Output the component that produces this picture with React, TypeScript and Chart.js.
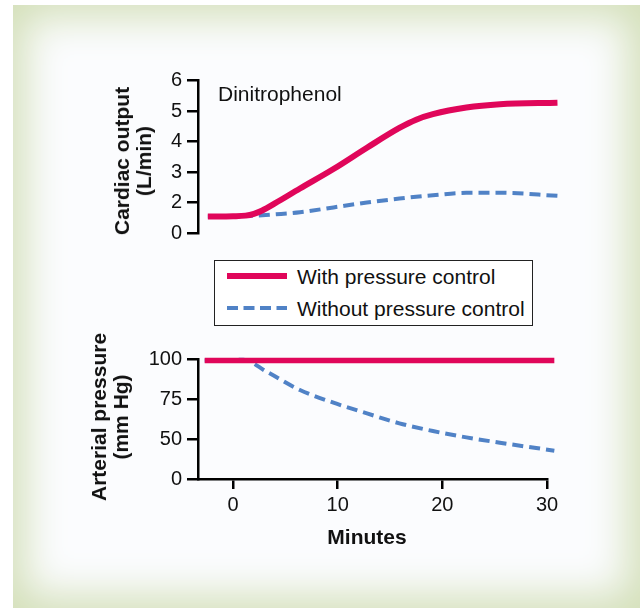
import React, { useEffect, useRef } from 'react';
import { Chart, registerables } from 'chart.js';

Chart.register(...registerables);

// ---- data ----
const cardiacMinutes = [-2.4, 0.0, 1.2, 2.0, 2.8, 4.0, 6.4, 9.6, 12.8, 15.9, 17.5, 19.1, 22.3, 25.5, 31.0];
const cardiacWithControl = [1.54, 1.55, 1.57, 1.63, 1.74, 1.97, 2.46, 3.1, 3.8, 4.45, 4.72, 4.9, 5.12, 5.23, 5.28];
const cardiacWithoutControl = [1.54, 1.55, 1.56, 1.57, 1.58, 1.61, 1.68, 1.84, 2.0, 2.13, 2.19, 2.24, 2.32, 2.32, 2.22];

const pressureMinutes = [-2.7, 1.0, 3.2, 6.4, 9.6, 12.8, 15.9, 19.1, 22.3, 25.5, 30.7];
const pressureWithControl = [99, 99, 99, 99, 99, 99, 99, 99, 99, 99, 99];
const pressureWithoutControl = [99, 99.5, 92.1, 80.6, 72.7, 66.0, 59.8, 55.0, 51.0, 47.7, 42.7];

const minuteTicks = [0, 10, 20, 30];
const cardiacTickValues = [1, 2, 3, 4, 5, 6];
const cardiacTickLabels = ['0', '2', '3', '4', '5', '6'];
const pressureTickValues = [25, 50, 75, 100];
const pressureTickLabels = ['0', '50', '75', '100'];

const seriesLabels = ['With pressure control', 'Without pressure control'];
const panelNote = 'Dinitrophenol';
const cardiacTitle = ['Cardiac output', '(L/min)'];
const pressureTitle = ['Arterial pressure', '(mm Hg)'];
const xTitle = 'Minutes';

// ---- style ----
const RED = '#E0065A';
const BLUE = '#5082C6';
const INK = '#111111';
const FONT = '"Liberation Sans", Arial, Helvetica, sans-serif';

function yAxis(tickValues: number[], tickLabels: string[], min: number, max: number) {
  return {
    type: 'linear' as const,
    min,
    max,
    afterBuildTicks: (s: any) => {
      s.ticks = tickValues.map((value) => ({ value }));
    },
    afterFit: (s: any) => {
      s.width = 138;
    },
    ticks: {
      callback: (_v: any, i: number) => tickLabels[i],
      padding: 5,
      color: INK,
      font: { family: FONT, size: 20 },
    },
    grid: {
      display: true,
      drawOnChartArea: false,
      drawTicks: true,
      tickLength: 11,
      color: '#000',
      lineWidth: 2.5,
    },
    border: { display: true, color: '#000', width: 2.5 },
  };
}

function lineSet(label: string, xs: number[], ys: number[], color: string, width: number, dash: number[]) {
  return {
    label,
    data: xs.map((x, i) => ({ x, y: ys[i] })),
    borderColor: color,
    borderWidth: width,
    borderDash: dash,
    pointRadius: 0,
    cubicInterpolationMode: 'monotone' as const,
    clip: false as any,
    fill: false,
  };
}

function RotatedTitle({ lines, cx, cy }: { lines: string[]; cx: number; cy: number }) {
  return (
    <div style={{ position: 'absolute', left: cx, top: cy, width: 0, height: 0 }}>
      <div
        style={{
          position: 'absolute',
          left: 0,
          top: 0,
          transform: 'translate(-50%, -50%) rotate(-90deg)',
          whiteSpace: 'nowrap',
          textAlign: 'center',
          fontSize: 21,
          lineHeight: '22px',
          fontWeight: 'bold',
          color: INK,
        }}
      >
        {lines.map((l, i) => (
          <div key={i}>{l}</div>
        ))}
      </div>
    </div>
  );
}

export default function App() {
  const topRef = useRef<HTMLCanvasElement>(null);
  const botRef = useRef<HTMLCanvasElement>(null);

  useEffect(() => {
    const top = new Chart(topRef.current!, {
      type: 'line',
      data: {
        datasets: [
          lineSet(seriesLabels[0], cardiacMinutes, cardiacWithControl, RED, 6, []),
          lineSet(seriesLabels[1], cardiacMinutes, cardiacWithoutControl, BLUE, 4, [11, 6]),
        ],
      },
      options: {
        responsive: false,
        animation: false,
        events: [],
        layout: { padding: { left: 0, top: 20.7, right: 33, bottom: 15 } },
        plugins: { legend: { display: false }, tooltip: { enabled: false } },
        scales: {
          x: { type: 'linear', min: -3.34, max: 30, display: false },
          y: yAxis(cardiacTickValues, cardiacTickLabels, 1, 6) as any,
        },
      } as any,
    });

    const bot = new Chart(botRef.current!, {
      type: 'line',
      data: {
        datasets: [
          lineSet(seriesLabels[0], pressureMinutes, pressureWithControl, RED, 5.5, []),
          lineSet(seriesLabels[1], pressureMinutes, pressureWithoutControl, BLUE, 4, [11, 6]),
        ],
      },
      options: {
        responsive: false,
        animation: false,
        events: [],
        layout: { padding: { left: 0, top: 29, right: 33, bottom: 0 } },
        plugins: { legend: { display: false }, tooltip: { enabled: false } },
        scales: {
          x: {
            type: 'linear',
            min: -3.34,
            max: 30,
            afterBuildTicks: (s: any) => {
              s.ticks = minuteTicks.map((value) => ({ value }));
            },
            afterFit: (s: any) => {
              s.height = 81;
            },
            ticks: {
              padding: 4,
              color: INK,
              font: { family: FONT, size: 20 },
              maxRotation: 0,
            },
            grid: {
              display: true,
              drawOnChartArea: false,
              drawTicks: true,
              tickLength: 10,
              color: '#000',
              lineWidth: 2.5,
            },
            border: { display: true, color: '#000', width: 2.5 },
          },
          y: yAxis(pressureTickValues, pressureTickLabels, 25, 100) as any,
        },
      } as any,
    });

    return () => {
      top.destroy();
      bot.destroy();
    };
  }, []);

  return (
    <div style={{ position: 'absolute', left: 0, top: 0, width: 643, height: 608, background: '#ffffff', overflow: 'hidden', fontFamily: FONT }}>
      <div
        style={{
          position: 'absolute',
          left: 13,
          top: 5,
          width: 627,
          height: 603,
          background: '#fbfcfe',
          boxShadow: 'inset 0 0 40px 12px #d3dfb8',
        }}
      />
      <canvas ref={topRef} width={520} height={190} style={{ position: 'absolute', left: 60, top: 60, width: 520, height: 190 }} />
      <canvas ref={botRef} width={520} height={230} style={{ position: 'absolute', left: 60, top: 330, width: 520, height: 230 }} />
      <RotatedTitle lines={cardiacTitle} cx={133} cy={161} />
      <RotatedTitle lines={pressureTitle} cx={110} cy={417} />
      <div style={{ position: 'absolute', left: 327, top: 525.5, width: 80, textAlign: 'center', fontSize: 21, lineHeight: '21px', fontWeight: 'bold', color: INK, whiteSpace: 'nowrap' }}>{xTitle}</div>
      <div style={{ position: 'absolute', left: 218, top: 82.5, fontSize: 21, lineHeight: '21px', color: INK, whiteSpace: 'nowrap' }}>{panelNote}</div>
      <div style={{ position: 'absolute', left: 214, top: 260, width: 317, height: 64, border: '1px solid #222', background: '#ffffff' }}>
        <svg width={317} height={64} style={{ position: 'absolute', left: 0, top: 0 }}>
          <line x1={12} x2={72} y1={15} y2={15} stroke={RED} strokeWidth={6} />
          <line x1={12} x2={72} y1={47} y2={47} stroke={BLUE} strokeWidth={4} strokeDasharray="11 5.5" />
        </svg>
        <div style={{ position: 'absolute', left: 82, top: 4.5, fontSize: 21, lineHeight: '21px', color: INK, whiteSpace: 'nowrap' }}>{seriesLabels[0]}</div>
        <div style={{ position: 'absolute', left: 82, top: 36.5, fontSize: 21, lineHeight: '21px', color: INK, whiteSpace: 'nowrap' }}>{seriesLabels[1]}</div>
      </div>
    </div>
  );
}
